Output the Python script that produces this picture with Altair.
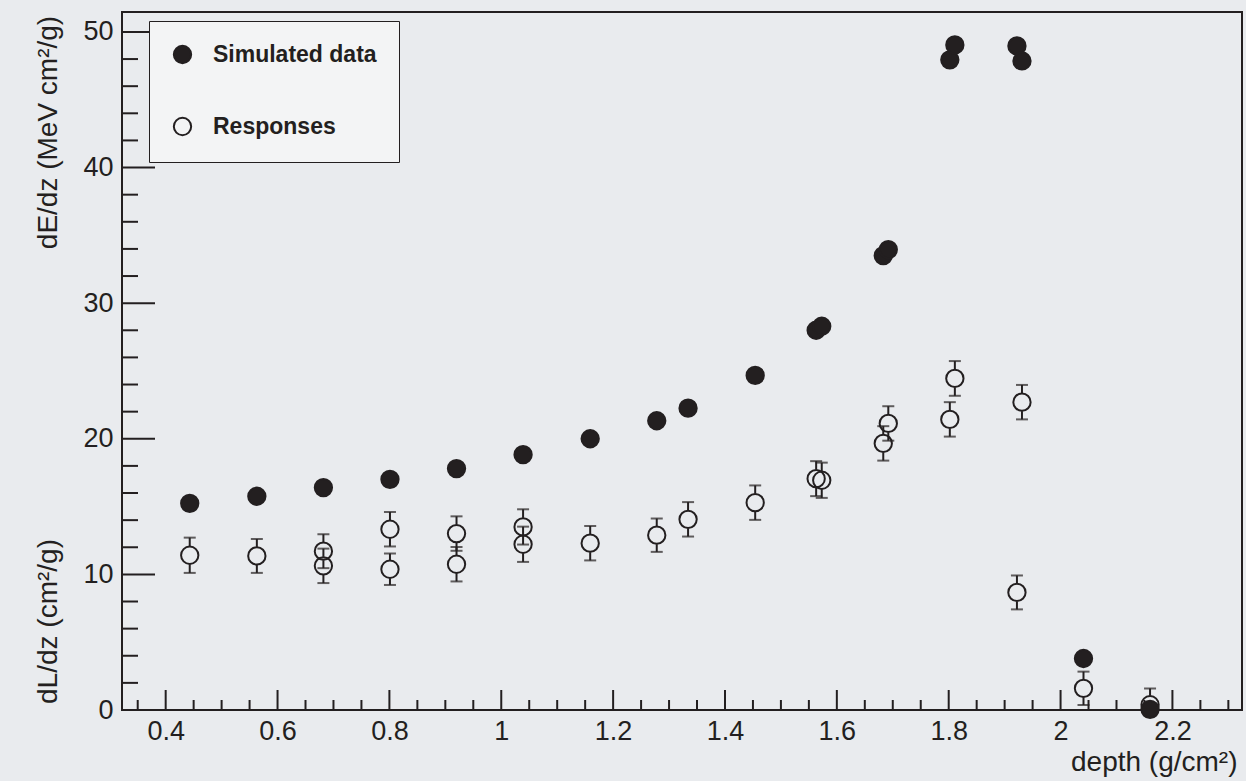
import altair as alt
import pandas as pd

# ---- data -------------------------------------------------------------
# Simulated energy deposit dE/dz (MeV cm^2/g) versus depth (g/cm^2)
sim_depth = [0.443, 0.563, 0.682, 0.801, 0.920, 1.039, 1.159, 1.278, 1.334, 1.454,
             1.563, 1.573, 1.683, 1.692, 1.802, 1.811, 1.922, 1.931, 2.041, 2.160]
sim_dEdz = [15.24, 15.76, 16.40, 17.01, 17.80, 18.83, 20.00, 21.33, 22.26, 24.67,
            28.00, 28.30, 33.50, 33.95, 47.94, 49.04, 48.97, 47.86, 3.80, 0.05]

# Measured responses dL/dz (cm^2/g) with their uncertainties
resp_depth = [0.443, 0.563, 0.682, 0.682, 0.801, 0.801, 0.920, 0.920, 1.039, 1.039,
              1.159, 1.278, 1.334, 1.454, 1.563, 1.573, 1.683, 1.692, 1.802, 1.811,
              1.922, 1.931, 2.041, 2.160]
resp_dLdz = [11.41, 11.36, 11.71, 10.63, 13.33, 10.38, 13.01, 10.75, 13.50, 12.22,
             12.30, 12.89, 14.06, 15.29, 17.06, 16.94, 19.66, 21.13, 21.43, 24.45,
             8.67, 22.70, 1.60, 0.39]
resp_err = [1.30, 1.25, 1.25, 1.27, 1.27, 1.16, 1.27, 1.27, 1.30, 1.30,
            1.27, 1.23, 1.27, 1.27, 1.29, 1.30, 1.27, 1.27, 1.27, 1.28,
            1.25, 1.27, 1.23, 1.20]

series_names = ["Simulated data", "Responses"]

# axis ticks
x_major = [0.4, 0.6, 0.8, 1.0, 1.2, 1.4, 1.6, 1.8, 2.0, 2.2]
x_minor = [0.35, 0.45, 0.5, 0.55, 0.65, 0.7, 0.75, 0.85, 0.9, 0.95, 1.05, 1.1, 1.15,
           1.25, 1.3, 1.35, 1.45, 1.5, 1.55, 1.65, 1.7, 1.75, 1.85, 1.9, 1.95,
           2.05, 2.1, 2.15, 2.25, 2.3]
y_major = [0, 10, 20, 30, 40, 50]
y_minor = [2, 4, 6, 8, 12, 14, 16, 18, 22, 24, 26, 28, 32, 34, 36, 38, 42, 44, 46, 48]

# ---- styling ----------------------------------------------------------
INK = "#231f20"
BG = "#e9ebee"
FONT = "Liberation Sans"
W, H = 1120, 698

xs = alt.Scale(domain=[0.3219, 2.3244], nice=False, zero=False)
ys = alt.Scale(domain=[0, 51.47], nice=False, zero=False)

# one shared x axis definition so all layers merge into the same axis
x_axis = alt.Axis(
    values=x_major, format="~g", labelPadding=8, ticks=False, domain=False,
    grid=False, title="depth (g/cm²)", titleX=1115, titleY=60,
    titleAlign="right", titleBaseline="alphabetic")

sim_df = pd.DataFrame({"depth": sim_depth, "value": sim_dEdz, "series": series_names[0]})
resp_df = pd.DataFrame({"depth": resp_depth, "value": resp_dLdz, "err": resp_err,
                        "series": series_names[1]})
pts_df = pd.concat([resp_df, sim_df], ignore_index=True)

# inward-pointing tick marks along the bottom and left edges
x_major_ticks = alt.Chart(pd.DataFrame({"depth": x_major})).mark_rule(
    color=INK, strokeWidth=2
).encode(
    x=alt.X("depth:Q", scale=xs, axis=x_axis),
    y=alt.value(H), y2=alt.value(H - 20),
)
x_minor_ticks = alt.Chart(pd.DataFrame({"depth": x_minor})).mark_rule(
    color=INK, strokeWidth=2
).encode(
    x=alt.X("depth:Q", scale=xs, axis=x_axis),
    y=alt.value(H), y2=alt.value(H - 10),
)
y_major_ticks = alt.Chart(pd.DataFrame({"t": y_major})).mark_rule(
    color=INK, strokeWidth=2
).encode(
    y=alt.Y("t:Q", scale=ys, axis=alt.Axis(
        orient="left", labels=False, ticks=False, domain=False, grid=False,
        title="dE/dz (MeV cm²/g)", titleX=-74, titleY=120, titleAngle=270,
        titleAlign="center", titleBaseline="middle")),
    x=alt.value(0), x2=alt.value(33),
)
y_minor_ticks = alt.Chart(pd.DataFrame({"t": y_minor})).mark_rule(
    color=INK, strokeWidth=2
).encode(
    y=alt.Y("t:Q", scale=ys, axis=None),
    x=alt.value(0), x2=alt.value(16),
)

# error bars of the responses, drawn outside the open markers
resp_base = alt.Chart(resp_df).transform_calculate(
    hi="datum.value + datum.err", lo="datum.value - datum.err"
)
err_up = resp_base.mark_rule(color=INK, strokeWidth=2, yOffset=-9, clip=True).encode(
    x=alt.X("depth:Q", scale=xs, axis=x_axis),
    y=alt.Y("value:Q", scale=ys, axis=None),
    y2="hi:Q",
)
err_dn = resp_base.mark_rule(color=INK, strokeWidth=2, yOffset=9, clip=True).encode(
    x=alt.X("depth:Q", scale=xs, axis=x_axis),
    y=alt.Y("value:Q", scale=ys, axis=None),
    y2="lo:Q",
)
cap_up = resp_base.mark_tick(color=INK, orient="horizontal", size=12, thickness=2,
                             clip=True).encode(
    x=alt.X("depth:Q", scale=xs, axis=x_axis),
    y=alt.Y("hi:Q", scale=ys, axis=None),
)
cap_dn = resp_base.mark_tick(color=INK, orient="horizontal", size=12, thickness=2,
                             clip=True).encode(
    x=alt.X("depth:Q", scale=xs, axis=x_axis),
    y=alt.Y("lo:Q", scale=ys, axis=None),
)

points = alt.Chart(pts_df).mark_point(
    shape="circle", size=300, stroke=INK, strokeWidth=2, opacity=1
).encode(
    x=alt.X("depth:Q", scale=xs, axis=x_axis),
    y=alt.Y("value:Q", scale=ys, axis=alt.Axis(
        orient="left", values=y_major, labelPadding=9, ticks=False, domain=False,
        grid=False, title="dL/dz (cm²/g)", titleX=-74, titleY=609, titleAngle=270,
        titleAlign="center", titleBaseline="middle")),
    fill=alt.Fill("series:N", scale=alt.Scale(domain=series_names,
                                              range=[INK, "transparent"]),
                  legend=alt.Legend(
                      title=None, orient="none", legendX=27, legendY=9,
                      direction="vertical", fillColor="#f3f4f5", strokeColor=INK,
                      padding=22, rowPadding=45, symbolType="circle", symbolSize=300,
                      symbolStrokeColor=INK, symbolStrokeWidth=2, labelOffset=19,
                      labelLimit=400, labelFont=FONT, labelFontSize=23,
                      labelFontWeight="bold", labelColor=INK)),
)

chart = alt.layer(
    x_major_ticks, x_minor_ticks, y_major_ticks, y_minor_ticks,
    err_up, err_dn, cap_up, cap_dn, points,
).resolve_axis(y="independent").properties(
    width=W, height=H,
    autosize=alt.AutoSizeParams(type="none"),
    padding={"left": 122, "top": 12, "right": 4, "bottom": 71},
    background=BG,
).configure_view(
    stroke=INK, strokeWidth=2, fill=BG,
).configure_axis(
    labelFont=FONT, labelFontSize=27, labelColor=INK,
    titleFont=FONT, titleFontSize=28, titleFontWeight="normal", titleColor=INK,
)

chart.save("out.html", embed_options={"renderer": "svg", "actions": False})
